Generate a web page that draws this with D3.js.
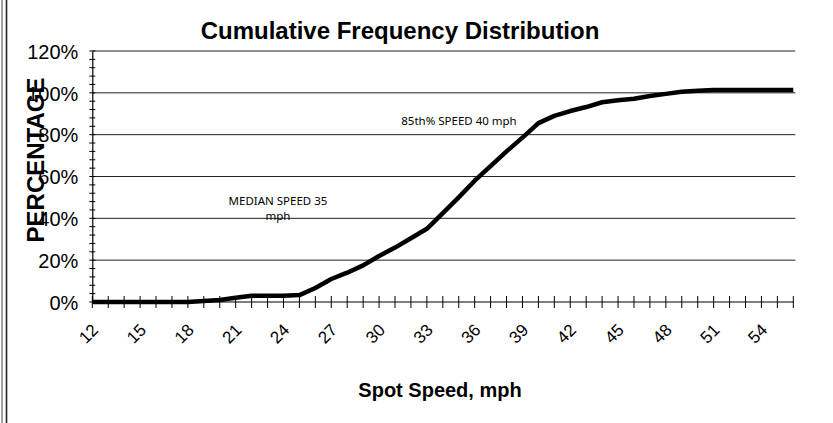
<!DOCTYPE html>
<html>
<head>
<meta charset="utf-8">
<script src="https://cdn.jsdelivr.net/npm/d3@7"></script>
<style>
  html, body { margin: 0; padding: 0; background: #fff; }
  svg { display: block; }
</style>
</head>
<body>
<svg id="chart" width="833" height="423"></svg>
<script>
const speeds = [12,13,14,15,16,17,18,19,20,21,22,23,24,25,26,27,28,29,30,31,32,33,34,35,36,37,38,39,40,41,42,43,44,45,46,47,48,49,50,51,52,53,54,55,56];
const cumulativePct = [0,0,0,0,0,0,0,0.5,1,2,3,3,3,3.3,6.7,11,14,17.5,22,26,30.5,35,42.5,50,58,65,72,78.6,85.5,89,91.3,93.2,95.5,96.5,97.2,98.5,99.5,100.5,101,101.3,101.3,101.3,101.3,101.3,101.3];
const yTicks = [0,20,40,60,80,100,120];
const xLabelSpeeds = [12,15,18,21,24,27,30,33,36,39,42,45,48,51,54];
const titleText = "Cumulative Frequency Distribution";
const xTitle = "Spot Speed, mph";
const yTitle = "PERCENTAGE";
const annotationLines = [["MEDIAN SPEED 35", "mph"], ["85th% SPEED 40 mph"]];

const svg = d3.select("#chart");
const mLeft = 92.3, mRight = 793.3, mTop = 51, mBottom = 302;
const arial = "'Liberation Sans', Arial, sans-serif";

const x = d3.scalePoint().domain(speeds).range([mLeft, mRight]);
const y = d3.scaleLinear().domain([0, 120]).range([mBottom, mTop]);

// page border lines on the left
svg.append("line").attr("x1", 2).attr("x2", 2).attr("y1", 0).attr("y2", 423).attr("stroke", "#444").attr("stroke-width", 1);
svg.append("line").attr("x1", 6.5).attr("x2", 6.5).attr("y1", 0).attr("y2", 423).attr("stroke", "#222").attr("stroke-width", 1.6);

// gridlines
svg.append("g").selectAll("line").data(yTicks.filter(d => d > 0)).join("line")
  .attr("x1", mLeft).attr("x2", mRight + 2)
  .attr("y1", d => y(d)).attr("y2", d => y(d))
  .attr("stroke", "#222").attr("stroke-width", 1);

// y axis
const yAxis = d3.axisLeft(y).tickValues(yTicks).tickFormat(d => d + "%").tickSize(0).tickPadding(14);
const gy = svg.append("g").attr("transform", `translate(${mLeft},0)`).call(yAxis);
gy.select(".domain").attr("stroke", "#000").attr("stroke-width", 1.2);
gy.selectAll("text").attr("font-family", arial).attr("font-size", 20).attr("fill", "#000").attr("dy", "0.36em");
// minor y ticks every 4%
const minorY = d3.range(0, 121, 4);
svg.append("g").selectAll("line").data(minorY).join("line")
  .attr("x1", mLeft - 3).attr("x2", mLeft + 3)
  .attr("y1", d => y(d)).attr("y2", d => y(d))
  .attr("stroke", "#000").attr("stroke-width", 1);

// x axis
svg.append("line").attr("x1", mLeft).attr("x2", mRight).attr("y1", mBottom).attr("y2", mBottom).attr("stroke", "#000").attr("stroke-width", 1.2);
svg.append("g").selectAll("line").data(speeds).join("line")
  .attr("x1", d => x(d)).attr("x2", d => x(d))
  .attr("y1", mBottom - 6).attr("y2", mBottom + 6)
  .attr("stroke", "#000").attr("stroke-width", 1);
svg.append("g").selectAll("text").data(xLabelSpeeds).join("text")
  .attr("transform", d => `translate(${x(d) + 7},${mBottom + 29}) rotate(-45)`)
  .attr("text-anchor", "end")
  .attr("font-family", arial)
  .attr("font-size", 17)
  .text(d => d);

// line
const line = d3.line().x((d, i) => x(speeds[i])).y(d => y(d)).curve(d3.curveLinear);
svg.append("path").datum(cumulativePct)
  .attr("d", line).attr("fill", "none").attr("stroke", "#000")
  .attr("stroke-width", 4.5).attr("stroke-linejoin", "round").attr("stroke-linecap", "butt");

// title
svg.append("text").attr("x", 400).attr("y", 39).attr("text-anchor", "middle")
  .attr("font-family", arial).attr("font-weight", "bold").attr("font-size", 24)
  .text(titleText);
// x title
svg.append("text").attr("x", 440).attr("y", 397).attr("text-anchor", "middle")
  .attr("font-family", arial).attr("font-weight", "bold").attr("font-size", 20)
  .text(xTitle);
// y title
svg.append("text").attr("transform", "translate(44,160) rotate(-90)").attr("text-anchor", "middle")
  .attr("font-family", arial).attr("font-weight", "bold").attr("font-size", 24)
  .text(yTitle);

// annotations
const annFont = "'Noto Sans', sans-serif";
const ann0 = svg.append("text").attr("font-family", annFont).attr("font-size", 11.5).attr("text-anchor", "middle");
ann0.append("tspan").attr("x", 278).attr("y", 205).text(annotationLines[0][0]);
ann0.append("tspan").attr("x", 278).attr("y", 220).text(annotationLines[0][1]);
svg.append("text").attr("x", 459).attr("y", 125).attr("text-anchor", "middle")
  .attr("font-family", annFont).attr("font-size", 11.5)
  .text(annotationLines[1][0]);
</script>
</body>
</html>
